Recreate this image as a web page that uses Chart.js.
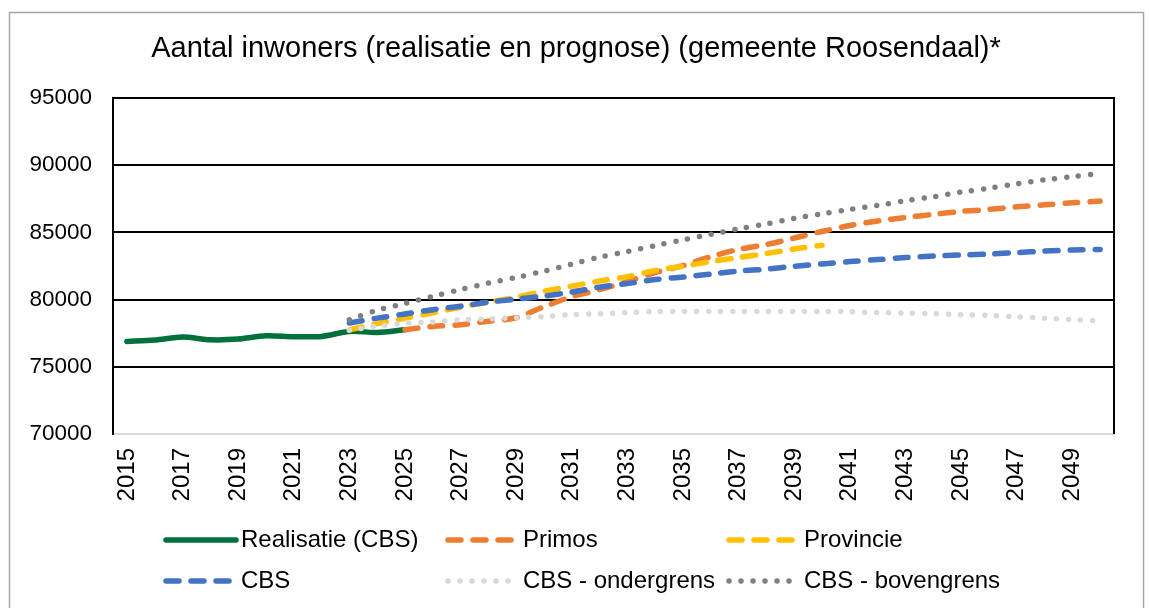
<!DOCTYPE html>
<html>
<head>
<meta charset="utf-8">
<script src="https://cdn.jsdelivr.net/npm/chart.js@4.4.1/dist/chart.umd.min.js"></script>
<style>
  html, body { margin: 0; padding: 0; background: #fff; }
  canvas { display: block; }
</style>
</head>
<body>
<canvas id="chart" width="1149" height="608"></canvas>
<script>
const years = [];
for (let y = 2015; y <= 2050; y++) years.push(String(y));

const titleText = 'Aantal inwoners (realisatie en prognose) (gemeente Roosendaal)*';
const yTicks = [70000, 75000, 80000, 85000, 90000, 95000];

// 2015 - 2025
const realisatie = [76890, 76990, 77210, 77010, 77060, 77310, 77240, 77260, 77630, 77560, 77760];
// 2025 - 2050
const primos = [77760, 78000, 78130, 78390, 78650, 79470, 80220, 80740, 81340, 82010, 82530, 83200, 83730,
  84100, 84580, 85070, 85510, 85850, 86110, 86340, 86560, 86710, 86900, 87050, 87200, 87330];
// 2023 - 2040
const provincie = [77750, 78210, 78620, 79010, 79440, 79810, 80180, 80620, 81000, 81380, 81710, 82160,
  82480, 82830, 83130, 83430, 83760, 84050];
// 2023 - 2050
const cbs = [78260, 78620, 78930, 79250, 79510, 79810, 80030, 80260, 80560, 80930, 81190, 81490, 81680,
  81900, 82120, 82270, 82480, 82650, 82830, 82980, 83130, 83240, 83320, 83390, 83500, 83610, 83690, 83730];
const cbsOnder = [77720, 78030, 78240, 78330, 78500, 78560, 78650, 78740, 78880, 78950, 79030, 79100, 79120,
  79120, 79120, 79120, 79120, 79120, 79100, 79030, 78990, 78950, 78880, 78830, 78710, 78620, 78500, 78430];
const cbsBoven = [78500, 79210, 79720, 80240, 80740, 81230, 81640, 82120, 82640, 83150, 83580, 84020, 84450,
  84850, 85260, 85630, 86040, 86380, 86710, 87010, 87350, 87650, 88000, 88280, 88620, 88910, 89150, 89380];

// put a series on the year axis, starting at a given year
function fromYear(start, values) {
  const out = years.map(() => null);
  const i0 = years.indexOf(String(start));
  values.forEach((v, i) => { out[i0 + i] = v; });
  return out;
}

const DASH = [13, 12];
const DOT = [0, 12];

function line(label, data, color, dash, width, order) {
  return {
    label: label,
    data: data,
    borderColor: color,
    backgroundColor: color,
    borderWidth: width,
    borderDash: dash,
    borderCapStyle: 'round',
    borderJoinStyle: 'round',
    pointRadius: 0,
    tension: 0.3,
    fill: false,
    spanGaps: false,
    order: order
  };
}

const datasets = [
  line('Realisatie (CBS)', fromYear(2015, realisatie), '#00703c', [], 5.5, 6),
  line('Primos', fromYear(2025, primos), '#ed7d31', DASH, 5.5, 5),
  line('Provincie', fromYear(2023, provincie), '#ffc000', DASH, 5.5, 4),
  line('CBS', fromYear(2023, cbs), '#4472c4', DASH, 5.5, 3),
  line('CBS - ondergrens', fromYear(2023, cbsOnder), '#d9d9d9', DOT, 5.5, 2),
  line('CBS - bovengrens', fromYear(2023, cbsBoven), '#7f7f7f', DOT, 5.5, 1)
];

const FONT = '"Liberation Sans", Arial, sans-serif';

/* frame, title, right border and the legend grid */
const decor = {
  id: 'decor',
  beforeDraw(chart) {
    const ctx = chart.ctx;
    ctx.save();
    ctx.fillStyle = '#fff';
    ctx.fillRect(0, 0, chart.width, chart.height);
    ctx.strokeStyle = '#a6a6a6';
    ctx.lineWidth = 1.5;
    ctx.strokeRect(9.5, 12.5, 1134, 620);
    ctx.restore();
  },
  afterDraw(chart) {
    const ctx = chart.ctx;
    const a = chart.chartArea;
    ctx.save();
    // right side of plot area
    ctx.strokeStyle = '#000';
    ctx.lineWidth = 2;
    ctx.beginPath();
    ctx.moveTo(a.right, a.top - 1);
    ctx.lineTo(a.right, a.bottom);
    ctx.stroke();

    // title
    ctx.fillStyle = '#000';
    ctx.font = '29px ' + FONT;
    ctx.textAlign = 'center';
    ctx.textBaseline = 'middle';
    ctx.fillText(titleText, 576, 49);

    // legend, 3 columns x 2 rows
    const cols = [164, 446, 727];
    const rows = [540, 581];
    ctx.font = '24px ' + FONT;
    ctx.textAlign = 'left';
    chart.data.datasets.forEach((ds, i) => {
      const x = cols[i % 3];
      const y = rows[Math.floor(i / 3)];
      ctx.strokeStyle = ds.borderColor;
      ctx.lineWidth = ds.borderWidth;
      ctx.lineCap = 'round';
      ctx.setLineDash(ds.borderDash);
      ctx.beginPath();
      ctx.moveTo(x + 2, y);
      ctx.lineTo(x + (ds.borderDash.length ? 66 : 72), y);
      ctx.stroke();
      ctx.setLineDash([]);
      ctx.fillStyle = '#000';
      ctx.fillText(ds.label, x + 77, y);
    });
    ctx.restore();
  }
};

new Chart(document.getElementById('chart'), {
  type: 'line',
  data: { labels: years, datasets: datasets },
  plugins: [decor],
  options: {
    responsive: false,
    animation: false,
    devicePixelRatio: 1,
    layout: { padding: { top: 98, right: 35, bottom: 0, left: 0 } },
    plugins: {
      legend: { display: false },
      title: { display: false },
      tooltip: { enabled: false }
    },
    scales: {
      x: {
        offset: true,
        afterFit: function (scale) { scale.height = 174; },
        grid: { display: false, drawTicks: false, offset: true },
        border: { display: true, color: '#d9d9d9', width: 2 },
        ticks: {
          autoSkip: false,
          minRotation: 90,
          maxRotation: 90,
          padding: 14,
          color: '#000',
          font: { family: FONT, size: 24 },
          callback: function (val, idx) {
            return idx % 2 === 0 ? years[idx] : '';
          }
        }
      },
      y: {
        min: yTicks[0],
        max: yTicks[yTicks.length - 1],
        afterFit: function (scale) { scale.width = 113; },
        afterBuildTicks: function (scale) {
          scale.ticks = yTicks.map(v => ({ value: v }));
        },
        grid: {
          drawTicks: false,
          lineWidth: 2,
          color: ctx => (ctx.tick && ctx.tick.value === yTicks[0]) ? '#d9d9d9' : '#000'
        },
        border: { display: true, color: '#000', width: 2 },
        ticks: {
          padding: 21,
          color: '#000',
          font: { family: FONT, size: 22.5 },
          callback: v => String(v)
        }
      }
    }
  }
});
</script>
</body>
</html>
